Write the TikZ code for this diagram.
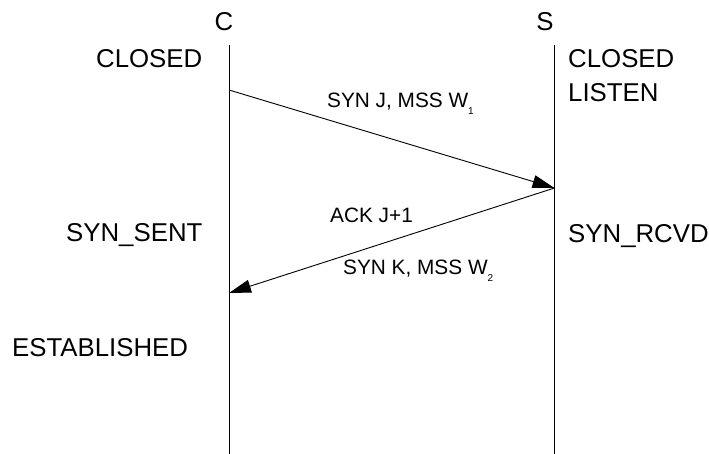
\documentclass[tikz,border=0pt]{standalone}
\usepackage{fontspec}
\setmainfont{Liberation Sans}
\usetikzlibrary{arrows.meta}
\tikzset{
  big/.style={font=\fontsize{25.8}{25.8}\selectfont, inner sep=0pt},
  msg/.style={font=\fontsize{20.8}{20.8}\selectfont, inner sep=0pt},
  life/.style={line width=0.9pt},
  mline/.style={line width=0.9pt, -{Triangle[length=22pt,width=13pt]}}
}
\newcommand{\sbx}[1]{\raisebox{-7pt}{\fontsize{10}{10}\selectfont #1}}
\begin{document}
\begin{tikzpicture}[x=1pt,y=1pt]
\useasboundingbox (0,0) rectangle (709,454);
% lifelines
\coordinate (ctop) at (229,409);
\coordinate (cbot) at (229,0);
\coordinate (stop) at (554.5,409);
\coordinate (sbot) at (554.5,0);
\draw[life] (ctop) -- (cbot);
\draw[life] (stop) -- (sbot);
% message points
\coordinate (c1) at (229,364);
\coordinate (s1) at (554.5,266);
\coordinate (c2) at (229,161);
\draw[mline] (c1) -- (s1);
\draw[mline] (s1) -- (c2);
% headers
\node[big, anchor=base] (hc) at (224,423) {C};
\node[big, anchor=base] (hs) at (545,423) {S};
% states
\node[big, anchor=base west] (cclosed) at (96,386) {CLOSED};
\node[big, anchor=base west] (sclosed) at (568,386) {CLOSED};
\node[big, anchor=base west] (listen) at (568,352) {LISTEN};
\node[big, anchor=base west] (synsent) at (66,212) {SYN\_SENT};
\node[big, anchor=base west] (synrcvd) at (568,211) {SYN\_RCVD};
\node[big, anchor=base west] (estab) at (12,97) {ESTABLISHED};
% message labels
\node[msg, anchor=base west] (m1) at (327,346) {SYN J, MSS W\sbx{1}};
\node[msg, anchor=base west] (m2) at (330,231) {ACK J+1};
\node[msg, anchor=base west] (m3) at (343,179) {SYN K, MSS W\sbx{2}};
\end{tikzpicture}
\end{document}
